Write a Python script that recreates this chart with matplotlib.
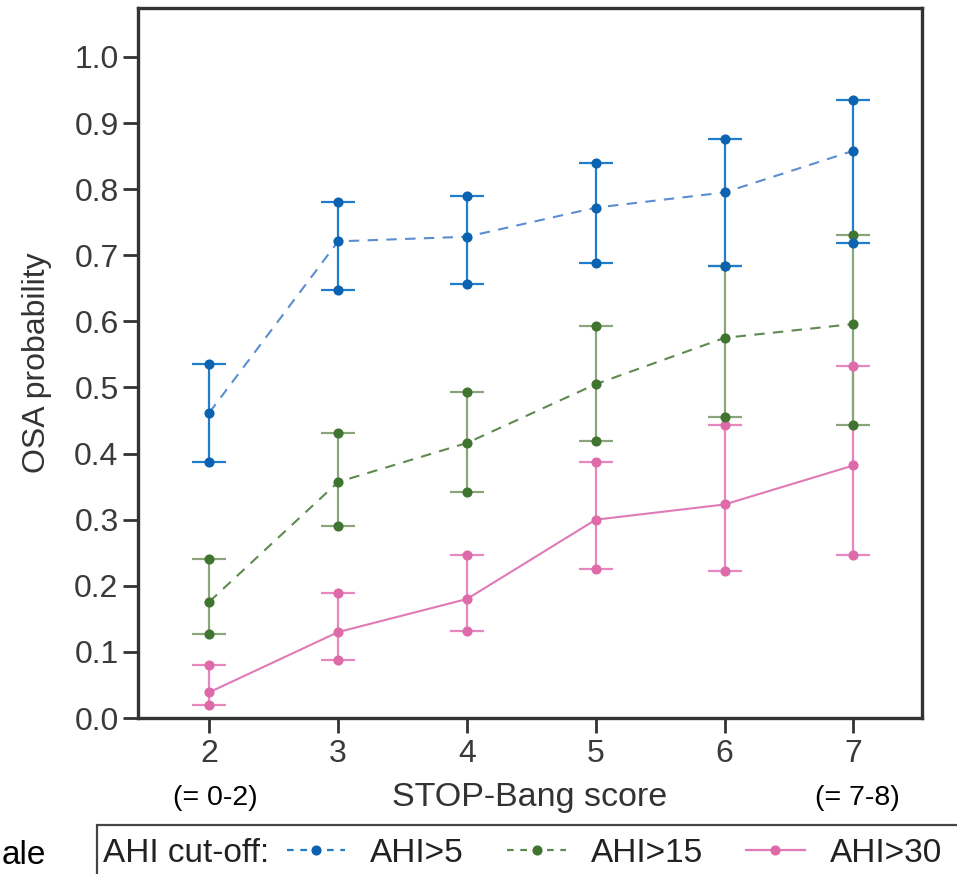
import matplotlib
matplotlib.use("Agg")
import matplotlib.pyplot as plt
from matplotlib.lines import Line2D
from matplotlib.patches import Rectangle

plt.rcParams['font.family'] = ['Liberation Sans', 'DejaVu Sans']

scores = [2, 3, 4, 5, 6, 7]

ahi5_mean = [0.462, 0.721, 0.728, 0.772, 0.795, 0.858]
ahi5_lo   = [0.388, 0.647, 0.656, 0.689, 0.683, 0.718]
ahi5_hi   = [0.535, 0.781, 0.790, 0.840, 0.876, 0.935]

ahi15_mean = [0.176, 0.357, 0.416, 0.505, 0.575, 0.596]
ahi15_lo   = [0.127, 0.290, 0.342, 0.419, 0.455, 0.443]
ahi15_hi   = [0.240, 0.431, 0.493, 0.593, 0.683, 0.731]

ahi30_mean = [0.039, 0.130, 0.180, 0.300, 0.323, 0.382]
ahi30_lo   = [0.020, 0.087, 0.131, 0.225, 0.223, 0.247]
ahi30_hi   = [0.080, 0.189, 0.247, 0.388, 0.443, 0.532]

yticks = [0.0, 0.1, 0.2, 0.3, 0.4, 0.5, 0.6, 0.7, 0.8, 0.9, 1.0]
ytick_labels = ['0.0', '0.1', '0.2', '0.3', '0.4', '0.5', '0.6', '0.7', '0.8', '0.9', '1.0']
legend_labels = ['AHI>5', 'AHI>15', 'AHI>30']

W, H = 957, 874
fig = plt.figure(figsize=(W / 100, H / 100), dpi=100)
ax = fig.add_axes([138 / W, 1 - 718 / H, (922 - 138) / W, (718 - 8) / H])

series = [
    (ahi30_mean, ahi30_lo, ahi30_hi, '#de6aaa', '#e688bf', '#e07ab6', '-'),
    (ahi15_mean, ahi15_lo, ahi15_hi, '#3f7530', '#8aa57a', '#5e8a50', (0, (5, 4))),
    (ahi5_mean, ahi5_lo, ahi5_hi, '#0b62b0', '#1f7dcc', '#5b8ed0', (0, (5, 4))),
]

for mean, lo, hi, mcol, ecol, lcol, ls in series:
    yerr = [[m - l for m, l in zip(mean, lo)], [h - m for m, h in zip(mean, hi)]]
    ax.errorbar(scores, mean, yerr=yerr, fmt='none', ecolor=ecol, elinewidth=1.6,
                capsize=12.5, capthick=1.6, zorder=2)
    ax.plot(scores, mean, color=lcol, linestyle=ls, linewidth=1.5, zorder=3)
    for vals in (lo, hi, mean):
        ax.plot(scores, vals, linestyle='none', marker='o', markersize=7.3,
                color=mcol, markeredgewidth=0, zorder=4)

ax.set_xlim(1.446, 7.533)
ax.set_ylim(0, 1.074)
ax.set_xticks(scores)
ax.set_xticklabels([str(s) for s in scores])
ax.set_yticks(yticks)
ax.set_yticklabels(ytick_labels)

for sp in ax.spines.values():
    sp.set_linewidth(2.4)
    sp.set_color('#333333')
ax.tick_params(axis='both', direction='out', length=11, width=2, color='#333333',
               labelsize=23, labelcolor='#3a3a3a')
ax.tick_params(axis='y', pad=3)
ax.tick_params(axis='x', pad=4)

ax.set_ylabel('OSA probability', fontsize=23, color='#333333', labelpad=16)

trans = ax.get_xaxis_transform()
ax.text(2.05, -0.112, '(= 0-2)', transform=trans, ha='center', va='center',
        fontsize=20.5, color='black')
ax.text(7.03, -0.112, '(= 7-8)', transform=trans, ha='center', va='center',
        fontsize=20.5, color='black')
ax.text(0.5, -0.112, 'STOP-Bang score', transform=ax.transAxes, ha='center',
        va='center', fontsize=24.5, color='#333333')

# legend box (extends past figure edge)
fig.add_artist(Rectangle((97 / W, -0.1), 1.0, 0.1 + (874 - 825) / H,
                         transform=fig.transFigure, fill=False,
                         edgecolor='#444444', linewidth=1.6))
fig.text(103 / W, 1 - 853 / H, 'AHI cut-off:', ha='left', va='center',
         fontsize=24, color='#222222')
fig.text(2 / W, 1 - 855 / H, 'ale', ha='left', va='center', fontsize=24,
         color='black')

handles = [
    Line2D([], [], color='#1f7dcc', linestyle=(0, (3, 3)), linewidth=1.6,
           marker='o', markersize=7.3, markerfacecolor='#0b62b0', markeredgewidth=0),
    Line2D([], [], color='#5e8a50', linestyle=(0, (3, 3)), linewidth=1.6,
           marker='o', markersize=7.3, markerfacecolor='#3f7530', markeredgewidth=0),
    Line2D([], [], color='#e07ab6', linestyle='-', linewidth=1.6,
           marker='o', markersize=7.3, markerfacecolor='#de6aaa', markeredgewidth=0),
]
fig.legend(handles, legend_labels, loc='center left',
           bbox_to_anchor=(287 / W, 1 - 853 / H), ncol=3, frameon=False,
           fontsize=24, handlelength=1.75, handletextpad=0.75, columnspacing=1.3,
           borderpad=0, borderaxespad=0, labelcolor='#222222')

fig.savefig('out.png', dpi=100)
